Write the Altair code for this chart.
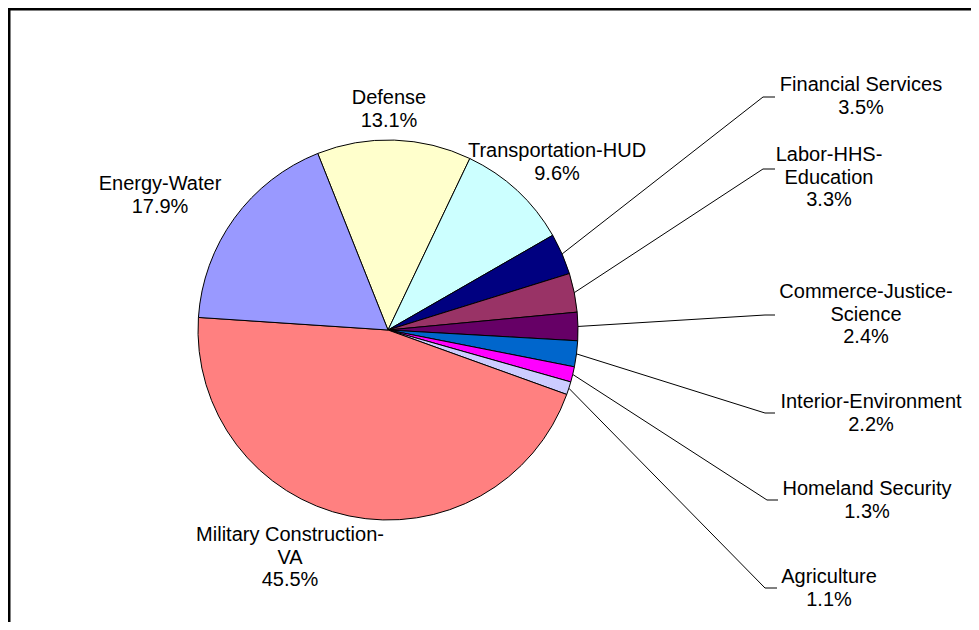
import math
import altair as alt
import pandas as pd

# ---------------- data ----------------
categories = ["Defense", "Transportation-HUD", "Financial Services", "Labor-HHS-Education",
              "Commerce-Justice-Science", "Interior-Environment", "Homeland Security",
              "Agriculture", "Military Construction-VA", "Energy-Water"]
shares = [13.1, 9.6, 3.5, 3.3, 2.4, 2.2, 1.3, 1.1, 45.5, 17.9]
colors = ["#FFFFCC", "#CCFFFF", "#000080", "#993366", "#660066",
          "#0066CC", "#FF00FF", "#CCCCFF", "#FF8080", "#9999FF"]
label_lines = [["Defense"], ["Transportation-HUD"], ["Financial Services"],
               ["Labor-HHS-", "Education"], ["Commerce-Justice-", "Science"],
               ["Interior-Environment"], ["Homeland Security"], ["Agriculture"],
               ["Military Construction-", "VA"], ["Energy-Water"]]

# ---------------- layout (chart pixel coordinates) ----------------
W, H = 963, 614
START_DEG = -21.7
CX, CY, R = 380, 322, 190
FONT = "Liberation Sans"
FS = 20
LINE_H = 22.5
label_x = [381, 549, 853, 821, 858, 863, 859, 821, 282, 152]
label_y = [90, 143, 77, 147, 284, 394, 481, 569, 527, 176]
# leader lines: category -> (bend x, bend y, end x)
leaders = {
    "Financial Services": (755, 89, 767),
    "Labor-HHS-Education": (755, 161, 767),
    "Commerce-Justice-Science": (757, 307, 767),
    "Interior-Environment": (757, 405, 767),
    "Homeland Security": (759, 492, 770),
    "Agriculture": (757, 580, 769),
}

total = sum(shares)
pie_df = pd.DataFrame({"category": categories, "share": shares,
                       "order": list(range(len(categories)))})

# label rows
rows = []
for i, cat in enumerate(categories):
    lines = label_lines[i] + [f"{shares[i]:.1f}%"]
    for j, t in enumerate(lines):
        rows.append({"text": t, "x": label_x[i], "y": label_y[i] + j * LINE_H})
label_df = pd.DataFrame(rows)

# leader line segments, starting from each slice's mid angle on the rim
seg = []
cum = 0.0
for cat, v in zip(categories, shares):
    mid = math.radians(START_DEG + 360.0 * (cum + v / 2) / total)
    cum += v
    if cat in leaders:
        bx, by, ex = leaders[cat]
        px = CX + R * math.sin(mid)
        py = CY - R * math.cos(mid)
        seg.append({"x": px, "y": py, "x2": bx, "y2": by})
        seg.append({"x": bx, "y": by, "x2": ex, "y2": by})
seg_df = pd.DataFrame(seg)

t0 = math.radians(START_DEG)
pie = alt.Chart(pie_df).mark_arc(radius=R, stroke="black", strokeWidth=1).encode(
    theta=alt.Theta("share:Q", stack=True,
                    scale=alt.Scale(domain=[0, total], range=[t0, t0 + 2 * math.pi])),
    color=alt.Color("category:N", scale=alt.Scale(domain=categories, range=colors), legend=None),
    order=alt.Order("order:Q"),
    x=alt.value(CX),
    y=alt.value(CY),
)

rules = alt.Chart(seg_df).mark_rule(color="black", strokeWidth=1).encode(
    x=alt.X("x:Q", scale=None, axis=None),
    y=alt.Y("y:Q", scale=None, axis=None),
    x2="x2:Q",
    y2="y2:Q",
)

labels = alt.Chart(label_df).mark_text(font=FONT, fontSize=FS, color="black",
                                        align="center", baseline="middle").encode(
    x=alt.X("x:Q", scale=None, axis=None),
    y=alt.Y("y:Q", scale=None, axis=None),
    text="text:N",
)

# chart border: only the left and top edges are inside the visible window
frame_df = pd.DataFrame({"x": [1.25, 0], "y": [0, 1.25], "x2": [1.25, W], "y2": [H, 1.25]})
frame = alt.Chart(frame_df).mark_rule(color="black", strokeWidth=2.5).encode(
    x=alt.X("x:Q", scale=None, axis=None),
    y=alt.Y("y:Q", scale=None, axis=None),
    x2="x2:Q",
    y2="y2:Q",
)

chart = alt.layer(pie, rules, labels, frame).properties(
    width=W, height=H, padding=0, autosize=alt.AutoSizeParams(type="none"),
    background="white",
).configure_view(strokeWidth=0)

chart.save("out.html", embed_options={"renderer": "svg", "actions": False})
